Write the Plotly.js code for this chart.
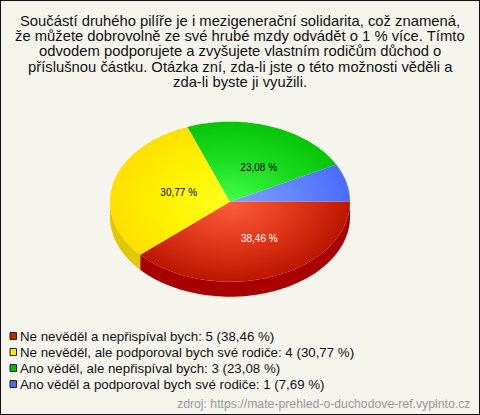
<!DOCTYPE html>
<html><head><meta charset="utf-8">
<script src="https://cdn.plot.ly/plotly-3.0.1.min.js"></script>
<style>html,body{margin:0;padding:0;background:#f5f5ee}#c{width:480px;height:415px}</style>
</head><body><div id="c"></div>
<script>
const titleLines = [
 "Součástí druhého pilíře je i mezigenerační solidarita, což znamená,",
 "že můžete dobrovolně ze své hrubé mzdy odvádět o 1 % více. Tímto",
 "odvodem podporujete a zvyšujete vlastním rodičům důchod o",
 "příslušnou částku. Otázka zní, zda-li jste o této možnosti věděli a",
 "zda-li byste ji využili."
];
const categories = ["Ne nevěděl a nepřispíval bych","Ne nevěděl, ale podporoval bych své rodiče","Ano věděl, ale nepřispíval bych","Ano věděl a podporoval bych své rodiče"];
const counts = [5,4,3,1];
const percentLabels = ["38,46 %","30,77 %","23,08 %","7,69 %"];
const sourceText = "zdroj: https://mate-prehled-o-duchodove-ref.vyplnto.cz";

// styling
const W=480,H=415,cx=230,cy=201.7,rx=120,ry=80,depth=15;
const ramps=[
 [[0,"#ff5c3e"],[0.5,"#e23a1c"],[1,"#bc1600"]],
 [[0,"#ffff20"],[0.55,"#fff200"],[1,"#ffdf00"]],
 [[0,"#40ff48"],[0.55,"#1cdc20"],[1,"#08c408"]],
 [[0,"#82a4ff"],[0.55,"#6286ff"],[1,"#4a6cff"]]
];
const wall=["#a80000","#e2c800","#00a000","#3a55cc"];
const swatch=["#c42200","#ffe600","#08b808","#4a6cf0"];
const labelColor=["#ffffff","#000000","#000000",null];
const labelPx=[[259.3,239.3],[178.7,193.2],[258.7,168.2],null];

const total=counts.reduce((a,b)=>a+b,0);
const X=p=>p, Y=p=>H-p;           // axes run in window pixels, y flipped
function arc(a0,a1,oy){const n=Math.max(2,Math.ceil((a1-a0)/1.5)),xs=[],ys=[];
  for(let i=0;i<=n;i++){const a=(a0+(a1-a0)*i/n)*Math.PI/180;
    xs.push(X(cx+rx*Math.cos(a)));ys.push(Y(cy+ry*Math.sin(a)+oy));}
  return [xs,ys];}
const traces=[];let start=0;const spans=counts.map(c=>{const s=[start,start+c/total*360];start=s[1];return s;});

// side wall: only the part of each slice on the front half
spans.forEach((s,i)=>{const a0=Math.max(s[0],0),a1=Math.min(s[1],180);if(a1<=a0)return;
  const [tx,ty]=arc(a0,a1,0),[bx,by]=arc(a0,a1,depth);
  traces.push({type:"scatter",mode:"lines",x:bx.concat(tx.slice().reverse()),y:by.concat(ty.slice().reverse()),
    fill:"toself",fillcolor:wall[i],line:{width:0,simplify:false},hoverinfo:"skip",showlegend:false});});

// top face: zero-area spokes stretch the gradient box over the whole ellipse
spans.forEach((s,i)=>{const [ax,ay]=arc(s[0],s[1],0);
  const cX=X(cx),cY=Y(cy);
  const xs=[cX,X(cx-rx),cX,X(cx+rx),cX].concat(ax,[cX]);
  const ys=[cY,Y(cy-ry),cY,Y(cy+ry),cY].concat(ay,[cY]);
  traces.push({type:"scatter",mode:"lines",x:xs,y:ys,fill:"toself",
    fillgradient:{type:"radial",colorscale:ramps[i]},
    line:{width:0,simplify:false},hoverinfo:"skip",showlegend:false,name:categories[i]});});

const lbl=percentLabels.map((t,i)=>labelPx[i]?i:-1).filter(i=>i>=0);
traces.push({type:"scatter",mode:"text",x:lbl.map(i=>X(labelPx[i][0])),y:lbl.map(i=>Y(labelPx[i][1])),
  text:lbl.map(i=>percentLabels[i]),textposition:"middle center",
  textfont:{family:"Liberation Sans, Arial",size:10,color:lbl.map(i=>labelColor[i])},hoverinfo:"skip",showlegend:false});

const annotations=[],shapes=[];
const titleY=[20.5,36,51,66.5,82];
titleLines.forEach((t,i)=>annotations.push({xref:"x",yref:"y",x:X(240),y:Y(titleY[i]),text:t,showarrow:false,xanchor:"center",yanchor:"middle",
  font:{family:"Liberation Sans, Arial",size:14.8,color:"#111"}}));
categories.forEach((c,i)=>{const yy=336+16*i;
  shapes.push({type:"rect",xref:"x",yref:"y",x0:X(10),x1:X(16.5),y0:Y(yy-3.5),y1:Y(yy+3.5),fillcolor:swatch[i],line:{color:"#222",width:1}});
  annotations.push({xref:"x",yref:"y",x:X(20),y:Y(yy),text:c+": "+counts[i]+" ("+percentLabels[i]+")",showarrow:false,xanchor:"left",yanchor:"middle",xshift:-2,
    font:{family:"Liberation Sans, Arial",size:13.3,color:"#111"}});});
annotations.push({xref:"x",yref:"y",x:X(470),y:Y(404),text:sourceText,showarrow:false,xanchor:"right",yanchor:"middle",xshift:2,
  font:{family:"Liberation Sans, Arial",size:12.25,color:"#999"}});
shapes.push({type:"rect",xref:"paper",yref:"paper",x0:0,x1:1,y0:0,y1:1,line:{color:"#111",width:2},fillcolor:"rgba(0,0,0,0)"});

Plotly.newPlot("c",traces,{width:W,height:H,margin:{l:0,r:0,t:0,b:0},paper_bgcolor:"#f5f5ee",plot_bgcolor:"#f5f5ee",showlegend:false,
  xaxis:{range:[0,W],visible:false,fixedrange:true},yaxis:{range:[0,H],visible:false,fixedrange:true},
  annotations,shapes,hovermode:false},{displayModeBar:false,staticPlot:true});
</script></body></html>
